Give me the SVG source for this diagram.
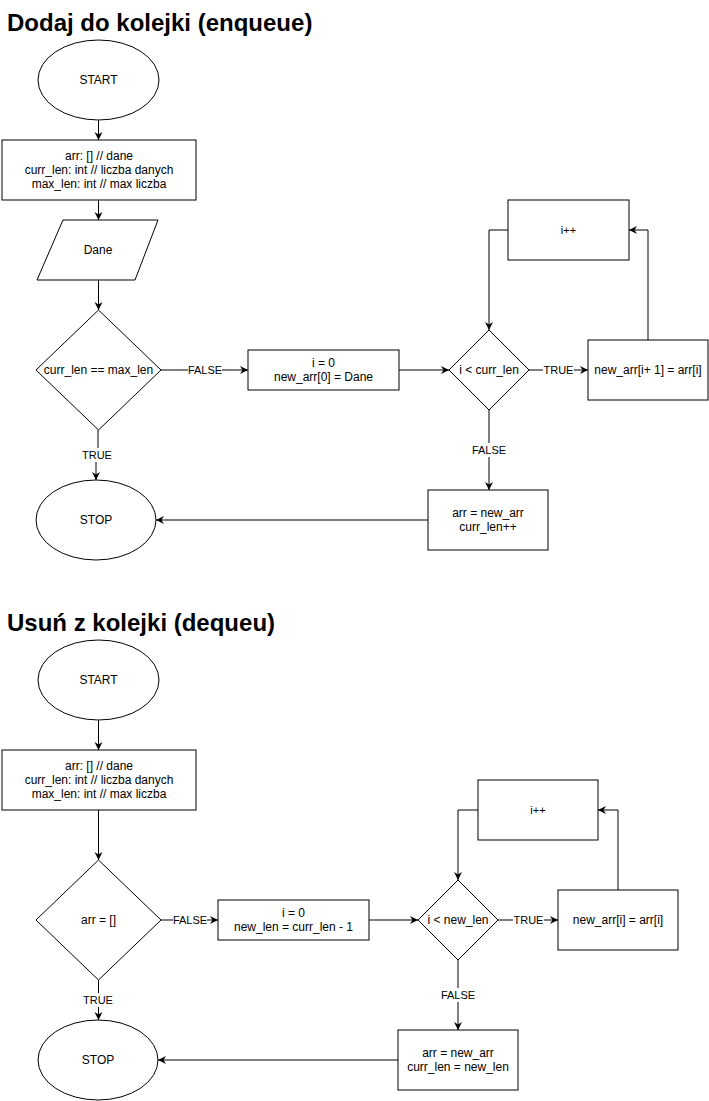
<svg xmlns="http://www.w3.org/2000/svg" width="709" height="1101" viewBox="0 0 709 1101">
<style>
.s{fill:#fff;stroke:#000;stroke-width:1}
.t{font-family:"Liberation Sans",Arial,sans-serif;font-size:12px;fill:#000;text-anchor:middle}
.sm{font-size:11px}
.h{font-family:"Liberation Sans",Arial,sans-serif;font-size:24px;font-weight:bold;fill:#000}
.c{fill:none;stroke:#000;stroke-width:1}
.lb{fill:#fff;stroke:none}
</style>
<defs>
<marker id="a" markerUnits="userSpaceOnUse" markerWidth="10" markerHeight="10" refX="8" refY="4" orient="auto">
<path d="M0,0 L8,4 L0,8 L2.5,4 Z" fill="#000"/>
</marker>
</defs>
<rect width="709" height="1101" fill="#fff"/>
<text class="h" x="7" y="31">Dodaj do kolejki (enqueue)</text>
<text class="h" x="7" y="631">Usuń z kolejki (dequeu)</text>

<g id="connectors">
<!-- enqueue -->
<path class="c" d="M98.5,120 V140" marker-end="url(#a)"/>
<path class="c" d="M98.5,200 V220" marker-end="url(#a)"/>
<path class="c" d="M98.5,280 V310" marker-end="url(#a)"/>
<path class="c" d="M161,370 H248" marker-end="url(#a)"/>
<path class="c" d="M98,430 V455 M96,455 V480" marker-end="url(#a)"/>
<path class="c" d="M399,370 H449" marker-end="url(#a)"/>
<path class="c" d="M529,370 H588" marker-end="url(#a)"/>
<path class="c" d="M648,340 V230 H629" marker-end="url(#a)"/>
<path class="c" d="M508,230 H489 V330" marker-end="url(#a)"/>
<path class="c" d="M489,410 V490" marker-end="url(#a)"/>
<path class="c" d="M428,520 H156" marker-end="url(#a)"/>
<!-- dequeue -->
<path class="c" d="M98.5,720 V750" marker-end="url(#a)"/>
<path class="c" d="M98.5,810 V860" marker-end="url(#a)"/>
<path class="c" d="M161,920 H218" marker-end="url(#a)"/>
<path class="c" d="M98.5,980 V1020" marker-end="url(#a)"/>
<path class="c" d="M369,920 H418" marker-end="url(#a)"/>
<path class="c" d="M498,920 H558" marker-end="url(#a)"/>
<path class="c" d="M618,890 V810 H598" marker-end="url(#a)"/>
<path class="c" d="M478,810 H458 V880" marker-end="url(#a)"/>
<path class="c" d="M458,960 V1030" marker-end="url(#a)"/>
<path class="c" d="M398,1060 H158" marker-end="url(#a)"/>
<!-- labels -->
<rect class="lb" x="188" y="363" width="34" height="14"/>
<text class="t sm" x="205" y="374">FALSE</text>
<rect class="lb" x="81" y="448" width="32" height="14"/>
<text class="t sm" x="97" y="459">TRUE</text>
<rect class="lb" x="543" y="363" width="31" height="14"/>
<text class="t sm" x="558.5" y="374">TRUE</text>
<rect class="lb" x="472" y="443" width="34" height="14"/>
<text class="t sm" x="489" y="454">FALSE</text>
<rect class="lb" x="173" y="913" width="34" height="14"/>
<text class="t sm" x="190" y="924">FALSE</text>
<rect class="lb" x="82" y="993" width="32" height="14"/>
<text class="t sm" x="98" y="1004">TRUE</text>
<rect class="lb" x="513" y="913" width="31" height="14"/>
<text class="t sm" x="528.5" y="924">TRUE</text>
<rect class="lb" x="441" y="988" width="34" height="14"/>
<text class="t sm" x="458" y="999">FALSE</text>
</g>

<g id="e-start"><ellipse class="s" cx="98.5" cy="80" rx="60.5" ry="40"/><text class="t" x="98.5" y="84">START</text></g>
<g id="e-init"><rect class="s" x="2" y="140" width="194" height="60"/><text class="t" x="99" y="160">arr: [] // dane</text><text class="t" x="99" y="174">curr_len: int // liczba danych</text><text class="t" x="99" y="188">max_len: int // max liczba</text></g>
<g id="e-dane"><polygon class="s" points="63,220 158,220 135,280 37,280"/><text class="t" x="98" y="254">Dane</text></g>
<g id="e-check"><polygon class="s" points="98.5,310 161,370 98.5,430 36,370"/><text class="t" x="98.5" y="374">curr_len == max_len</text></g>
<g id="e-i0"><rect class="s" x="248" y="350" width="151" height="40"/><text class="t" x="323.5" y="367">i = 0</text><text class="t" x="323.5" y="381">new_arr[0] = Dane</text></g>
<g id="e-loop"><polygon class="s" points="489,330 529,370 489,410 449,370"/><text class="t" x="489" y="374">i &lt; curr_len</text></g>
<g id="e-inc"><rect class="s" x="508" y="200" width="121" height="60"/><text class="t sm" x="568.5" y="234">i++</text></g>
<g id="e-copy"><rect class="s" x="588" y="340" width="120" height="60"/><text class="t" x="648" y="374">new_arr[i+ 1] = arr[i]</text></g>
<g id="e-assign"><rect class="s" x="428" y="490" width="120" height="60"/><text class="t" x="488" y="517">arr = new_arr</text><text class="t" x="488" y="531">curr_len++</text></g>
<g id="e-stop"><ellipse class="s" cx="96" cy="520" rx="60" ry="40"/><text class="t" x="96" y="524">STOP</text></g>

<g id="d-start"><ellipse class="s" cx="98.5" cy="680" rx="60.5" ry="40"/><text class="t" x="98.5" y="684">START</text></g>
<g id="d-init"><rect class="s" x="2" y="750" width="194" height="60"/><text class="t" x="99" y="770">arr: [] // dane</text><text class="t" x="99" y="784">curr_len: int // liczba danych</text><text class="t" x="99" y="798">max_len: int // max liczba</text></g>
<g id="d-check"><polygon class="s" points="98.5,860 161,920 98.5,980 36,920"/><text class="t" x="98.5" y="924">arr = []</text></g>
<g id="d-i0"><rect class="s" x="218" y="900" width="151" height="40"/><text class="t" x="293.5" y="917">i = 0</text><text class="t" x="293.5" y="931">new_len = curr_len - 1</text></g>
<g id="d-loop"><polygon class="s" points="458,880 498,920 458,960 418,920"/><text class="t" x="458" y="924">i &lt; new_len</text></g>
<g id="d-inc"><rect class="s" x="478" y="780" width="120" height="60"/><text class="t sm" x="538" y="814">i++</text></g>
<g id="d-copy"><rect class="s" x="558" y="890" width="120" height="60"/><text class="t" x="618" y="924">new_arr[i] = arr[i]</text></g>
<g id="d-assign"><rect class="s" x="398" y="1030" width="120" height="60"/><text class="t" x="458" y="1057">arr = new_arr</text><text class="t" x="458" y="1071">curr_len = new_len</text></g>
<g id="d-stop"><ellipse class="s" cx="98" cy="1060" rx="60" ry="40"/><text class="t" x="98" y="1064">STOP</text></g>
</svg>
